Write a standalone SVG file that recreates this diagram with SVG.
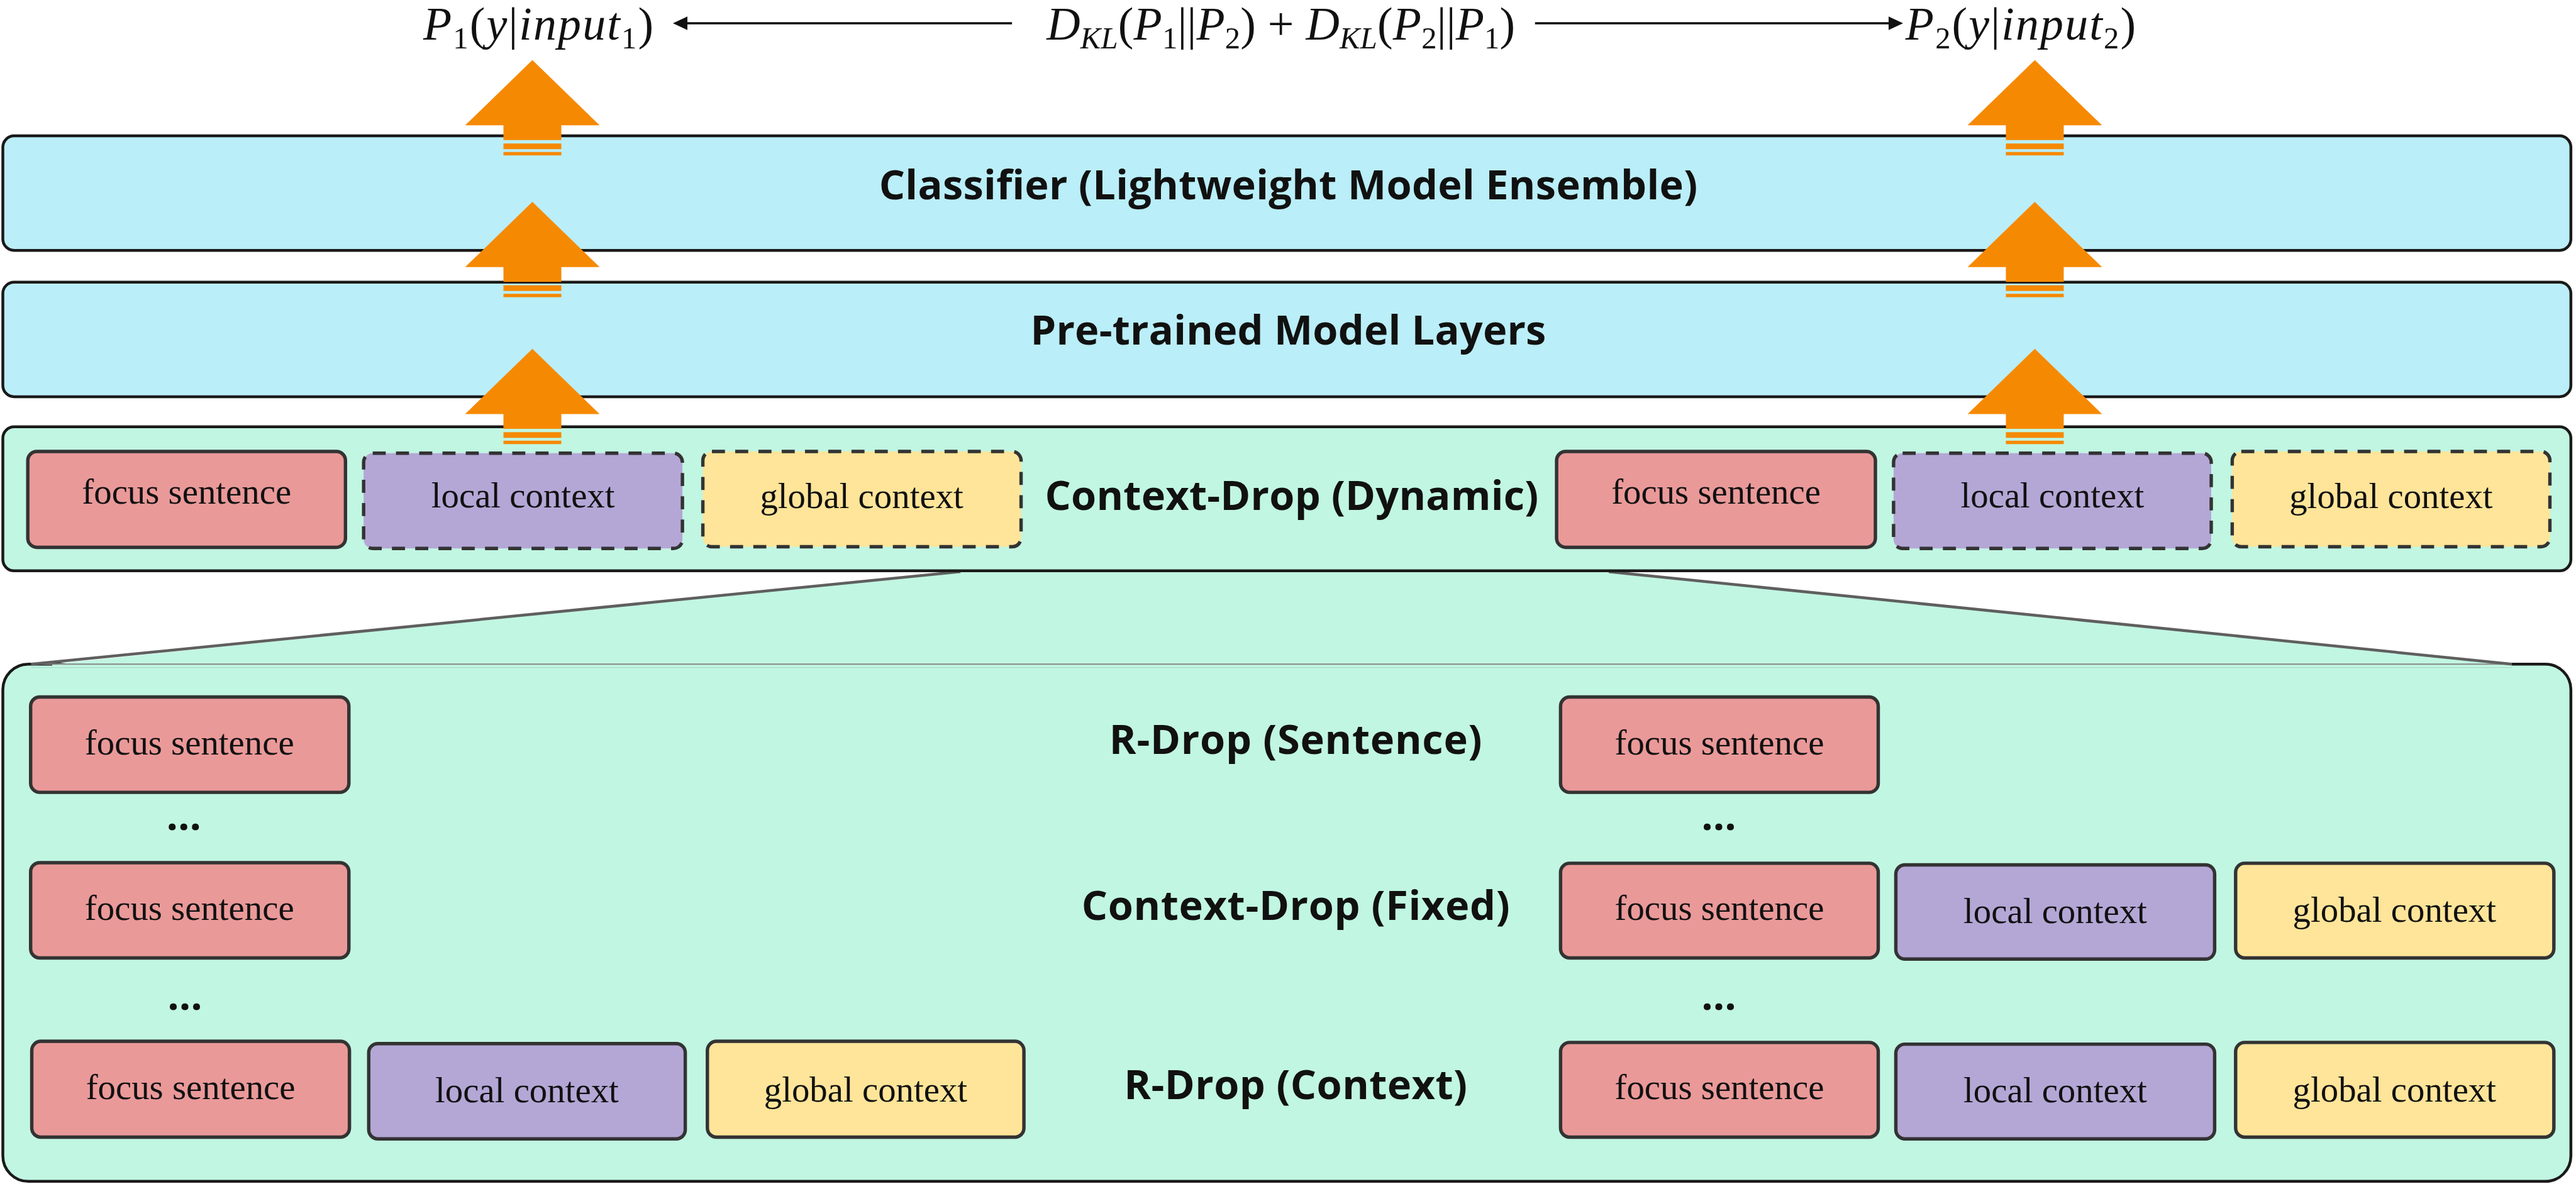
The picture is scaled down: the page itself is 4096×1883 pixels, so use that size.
<svg xmlns="http://www.w3.org/2000/svg" xmlns:xlink="http://www.w3.org/1999/xlink" width="4096" height="1883" viewBox="0 0 4096 1883">
  <style>
    .layer { fill: #BAEEF8; stroke: #1a1a1a; stroke-width: 5; }
    .stage { fill: #C1F6E2; stroke: #1a1a1a; stroke-width: 5; }
    .blk { stroke: #333333; stroke-width: 6; }
    .dash { stroke-dasharray: 23 18; }
    .focus { fill: #EA9999; }
    .local { fill: #B4A7D6; }
    .global { fill: #FFE599; }
    .seg { font-family: "Liberation Serif", "Times New Roman", serif; font-size: 63px; fill: #111111; text-anchor: middle; }
    .title { font-family: "Open Sans", "Noto Sans", "DejaVu Sans", sans-serif; font-weight: 700; font-size: 72px; fill: #111111; text-anchor: middle; }
    .dots { font-family: "Open Sans", "Noto Sans", sans-serif; font-weight: 700; font-size: 72px; fill: #111111; text-anchor: middle; }
    .math { font-family: "Liberation Serif", "Times New Roman", serif; font-size: 82px; fill: #111111; }
    .it { font-style: italic; }
    .sub { font-size: 54px; }
    .kl { stroke: #111111; stroke-width: 4; fill: none; }
    .wedge-edge { stroke: #5f5f5f; stroke-width: 5; fill: none; }
  </style>
  <defs>
    <marker id="head" viewBox="0 0 26 24" refX="16" refY="12" markerWidth="26" markerHeight="24" markerUnits="userSpaceOnUse" orient="auto">
      <path d="M0,0 L26,12 L0,24 z" fill="#111111"/>
    </marker>
    <!-- thick orange up-arrow, tip at (0,0) -->
    <g id="fat-arrow" fill="#F68902">
      <polygon points="0,0 118.5,115 51,115 51,141 -51,141 -51,115 -118.5,115"/>
      <rect x="-51" y="147" width="102" height="10"/>
      <rect x="-51" y="162" width="102" height="6"/>
    </g>
  </defs>

  <g transform="scale(0.902)">
    <!-- expanded view of the drop variants -->
    <g id="variants-panel">
      <rect class="stage" x="5" y="1171" width="4527" height="912" rx="45"/>
    </g>

    <!-- magnifier wedge linking the dynamic row to the variants panel -->
    <g id="wedge">
      <polygon points="1693,1007 2836,1007 4428,1171 4428,1176 92,1176 92,1171" fill="#C1F6E2"/>
      <line x1="55" y1="1171" x2="4428" y2="1171" stroke="#888888" stroke-width="2"/>
      <line x1="55" y1="1177" x2="4428" y2="1177" stroke="#A9DCCB" stroke-width="1.5"/>
      <line class="wedge-edge" x1="1693" y1="1008" x2="55" y2="1171"/>
      <line class="wedge-edge" x1="2836" y1="1008" x2="4428" y2="1171"/>
    </g>

    <g id="classifier">
      <rect class="layer" x="5" y="239.5" width="4527" height="202" rx="20"/>
      <text class="title" x="2271" y="351" textLength="1443" lengthAdjust="spacing">Classifier (Lightweight Model Ensemble)</text>
    </g>

    <g id="pretrained">
      <rect class="layer" x="5" y="497.5" width="4527" height="202" rx="20"/>
      <text class="title" x="2271" y="608" textLength="909" lengthAdjust="spacing">Pre-trained Model Layers</text>
    </g>

    <g id="context-drop-dynamic">
      <rect class="stage" x="5" y="752.5" width="4527" height="254" rx="20"/>
      <text class="title" x="2277" y="899" textLength="870" lengthAdjust="spacing">Context-Drop (Dynamic)</text>
    </g>

    <!-- dynamic row, first pass -->
    <g id="dyn1-focus">
      <rect class="blk focus" x="49" y="796" width="560" height="169" rx="16"/>
      <text class="seg" x="329" y="888">focus sentence</text>
    </g>
    <g id="dyn1-local">
      <rect class="blk dash local" x="641" y="799" width="562" height="168" rx="16"/>
      <text class="seg" x="922" y="895">local context</text>
    </g>
    <g id="dyn1-global">
      <rect class="blk dash global" x="1239" y="796" width="561" height="168" rx="16"/>
      <text class="seg" x="1519" y="896">global context</text>
    </g>

    <!-- dynamic row, second pass -->
    <g id="dyn2-focus">
      <rect class="blk focus" x="2744" y="796" width="562" height="169" rx="16"/>
      <text class="seg" x="3025" y="888">focus sentence</text>
    </g>
    <g id="dyn2-local">
      <rect class="blk dash local" x="3338" y="799" width="560" height="168" rx="16"/>
      <text class="seg" x="3618" y="895">local context</text>
    </g>
    <g id="dyn2-global">
      <rect class="blk dash global" x="3935" y="796" width="560" height="168" rx="16"/>
      <text class="seg" x="4215" y="896">global context</text>
    </g>

    <!-- R-Drop (Sentence) -->
    <g id="rdrop-sentence-label">
      <text class="title" x="2284" y="1329" textLength="657" lengthAdjust="spacing">R-Drop (Sentence)</text>
    </g>
    <g id="rs-focus-1">
      <rect class="blk focus" x="54" y="1229" width="561" height="168" rx="16"/>
      <text class="seg" x="334" y="1330">focus sentence</text>
    </g>
    <g id="rs-focus-2">
      <rect class="blk focus" x="2751" y="1229" width="560" height="168" rx="16"/>
      <text class="seg" x="3031" y="1330">focus sentence</text>
    </g>
    <g id="gap-1">
      <text class="dots" x="324" y="1463">...</text>
      <text class="dots" x="3030" y="1463">...</text>
    </g>

    <!-- Context-Drop (Fixed) -->
    <g id="cdrop-fixed-label">
      <text class="title" x="2284" y="1622" textLength="755" lengthAdjust="spacing">Context-Drop (Fixed)</text>
    </g>
    <g id="cf-focus-1">
      <rect class="blk focus" x="54" y="1521" width="561" height="168" rx="16"/>
      <text class="seg" x="334" y="1622">focus sentence</text>
    </g>
    <g id="cf-focus-2">
      <rect class="blk focus" x="2751" y="1522" width="560" height="167" rx="16"/>
      <text class="seg" x="3031" y="1622">focus sentence</text>
    </g>
    <g id="cf-local-2">
      <rect class="blk local" x="3342" y="1525" width="562" height="166" rx="16"/>
      <text class="seg" x="3623" y="1628">local context</text>
    </g>
    <g id="cf-global-2">
      <rect class="blk global" x="3941" y="1522" width="561" height="167" rx="16"/>
      <text class="seg" x="4221" y="1625">global context</text>
    </g>
    <g id="gap-2">
      <text class="dots" x="326" y="1780">...</text>
      <text class="dots" x="3030" y="1780">...</text>
    </g>

    <!-- R-Drop (Context) -->
    <g id="rdrop-context-label">
      <text class="title" x="2284" y="1938" textLength="605" lengthAdjust="spacing">R-Drop (Context)</text>
    </g>
    <g id="rc-focus-1">
      <rect class="blk focus" x="56" y="1836" width="560" height="169" rx="16"/>
      <text class="seg" x="336" y="1938">focus sentence</text>
    </g>
    <g id="rc-local-1">
      <rect class="blk local" x="650" y="1840" width="558" height="168" rx="16"/>
      <text class="seg" x="929" y="1944">local context</text>
    </g>
    <g id="rc-global-1">
      <rect class="blk global" x="1247" y="1836" width="558" height="169" rx="16"/>
      <text class="seg" x="1526" y="1942">global context</text>
    </g>
    <g id="rc-focus-2">
      <rect class="blk focus" x="2751" y="1838" width="560" height="167" rx="16"/>
      <text class="seg" x="3031" y="1938">focus sentence</text>
    </g>
    <g id="rc-local-2">
      <rect class="blk local" x="3342" y="1841" width="562" height="167" rx="16"/>
      <text class="seg" x="3623" y="1944">local context</text>
    </g>
    <g id="rc-global-2">
      <rect class="blk global" x="3941" y="1838" width="561" height="167" rx="16"/>
      <text class="seg" x="4221" y="1942">global context</text>
    </g>

    <!-- outputs and the symmetric KL term -->
    <g id="out-p1">
      <text class="math" x="746" y="70" textLength="406" lengthAdjust="spacing"><tspan class="it">P</tspan><tspan class="sub" dy="15">1</tspan><tspan dy="-15">(</tspan><tspan class="it">y</tspan><tspan>|</tspan><tspan class="it">input</tspan><tspan class="sub" dy="15">1</tspan><tspan dy="-15">)</tspan></text>
    </g>
    <g id="kl-term">
      <text class="math" x="1845" y="70" textLength="826" lengthAdjust="spacing"><tspan class="it">D</tspan><tspan class="sub it" dy="15">KL</tspan><tspan dy="-15">(</tspan><tspan class="it">P</tspan><tspan class="sub" dy="15">1</tspan><tspan dy="-15">||</tspan><tspan class="it">P</tspan><tspan class="sub" dy="15">2</tspan><tspan dy="-15">)&#160;+&#160;</tspan><tspan class="it">D</tspan><tspan class="sub it" dy="15">KL</tspan><tspan dy="-15">(</tspan><tspan class="it">P</tspan><tspan class="sub" dy="15">2</tspan><tspan dy="-15">||</tspan><tspan class="it">P</tspan><tspan class="sub" dy="15">1</tspan><tspan dy="-15">)</tspan></text>
    </g>
    <g id="out-p2">
      <text class="math" x="3359" y="70" textLength="406" lengthAdjust="spacing"><tspan class="it">P</tspan><tspan class="sub" dy="15">2</tspan><tspan dy="-15">(</tspan><tspan class="it">y</tspan><tspan>|</tspan><tspan class="it">input</tspan><tspan class="sub" dy="15">2</tspan><tspan dy="-15">)</tspan></text>
    </g>

    <!-- connectors -->
    <g id="connectors">
      <line class="kl" x1="1784" y1="41" x2="1196" y2="41" marker-end="url(#head)"/>
      <line class="kl" x1="2706" y1="41" x2="3345" y2="41" marker-end="url(#head)"/>
      <use xlink:href="#fat-arrow" x="938.5" y="106"/>
      <use xlink:href="#fat-arrow" x="938.5" y="356"/>
      <use xlink:href="#fat-arrow" x="938.5" y="615"/>
      <use xlink:href="#fat-arrow" x="3587" y="106"/>
      <use xlink:href="#fat-arrow" x="3587" y="356"/>
      <use xlink:href="#fat-arrow" x="3587" y="615"/>
    </g>
  </g>
</svg>
